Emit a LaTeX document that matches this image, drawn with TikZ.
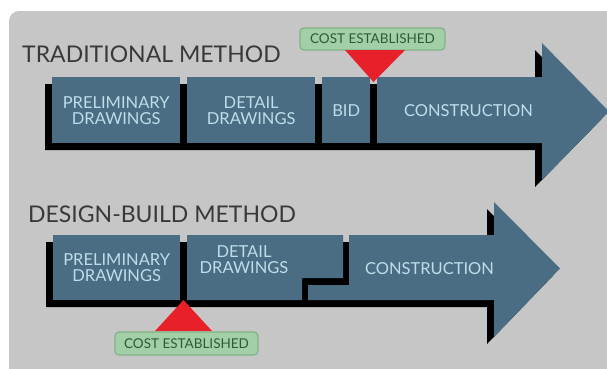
\documentclass[tikz,border=0pt]{standalone}
\usepackage{fontspec}
\setmainfont{Lato}
\definecolor{bgc}{HTML}{C6C6C6}
\definecolor{boxblue}{HTML}{4A6D83}
\definecolor{boxtxt}{HTML}{BEDDEA}
\definecolor{titlec}{HTML}{393939}
\definecolor{costfill}{HTML}{A3CFA6}
\definecolor{costdraw}{HTML}{82B287}
\definecolor{costtxt}{HTML}{2F5A38}
\definecolor{costred}{HTML}{E8202A}
\begin{document}
\begin{tikzpicture}[x=1pt,y=-1pt,
  piece/.style={fill=boxblue, draw=none},
  boxnode/.style={piece, rectangle, anchor=north west, inner sep=0pt, text=boxtxt,
    font=\fontsize{16.5}{16}\selectfont, align=center},
  txt/.style={text=boxtxt, font=\fontsize{16.5}{16}\selectfont, align=center, inner sep=0pt},
  shade7/.style={fill=black, shift={(-7,7)}},
  titletxt/.style={text=titlec, font=\fontsize{23}{23}\selectfont, anchor=base west, inner sep=0pt},
  costlabel/.style={draw=costdraw, line width=1.2pt, fill=costfill, rounded corners=4pt,
    text=costtxt, font=\fontsize{13.5}{13.5}\selectfont, inner sep=0pt},
  costtri/.style={fill=costred}
]
\useasboundingbox (0,0) rectangle (607,368);
\clip (0,0) rectangle (607,368);
\fill[white] (0,0) rectangle (607,368);
\fill[bgc, rounded corners=10pt] (9,11) rectangle (640,400);

% ---------- Traditional method ----------
\node[titletxt] (t1) at (22,62) {TRADITIONAL METHOD};
\fill[shade7] (52,77) -- (542,77) -- (542,43) -- (609,111.5) -- (542,180) -- (542,143) -- (52,143) -- cycle;
\node[boxnode, minimum width=128pt, minimum height=66pt] (pre1) at (52,77) {PRELIMINARY\\DRAWINGS};
\node[boxnode, minimum width=128pt, minimum height=66pt] (det1) at (187,77) {DETAIL\\DRAWINGS};
\node[boxnode, minimum width=48pt, minimum height=66pt] (bid1) at (322,77) {BID};
\fill[piece] (377,77) -- (542,77) -- (542,43) -- (609,111.5) -- (542,180) -- (542,143) -- (377,143) -- cycle;
\node[txt] (con1) at (468.5,111) {CONSTRUCTION};
\node[costlabel, minimum width=145pt, minimum height=22pt] (cost1) at (372.5,39) {COST ESTABLISHED};
\coordinate (tip1) at (373.5,82);
\fill[costtri] (345,50) -- (405,50) -- (tip1) -- cycle;

% ---------- Design-build method ----------
\node[titletxt] (t2) at (28,222) {DESIGN-BUILD METHOD};
\fill[shade7] (53,235) -- (494,235) -- (494,202) -- (560,268.5) -- (494,337) -- (494,300) -- (53,300) -- cycle;
\node[boxnode, minimum width=127pt, minimum height=65pt] (pre2) at (53,235) {PRELIMINARY\\DRAWINGS};
\fill[piece] (187,235) -- (343,235) -- (343,278) -- (302,278) -- (302,300) -- (187,300) -- cycle;
\node[txt] (det2) at (244,260) {DETAIL\\DRAWINGS};
\fill[piece] (349,235) -- (494,235) -- (494,202) -- (560,268.5) -- (494,337) -- (494,300) -- (308,300) -- (308,285) -- (349,285) -- cycle;
\node[txt] (con2) at (429.5,269) {CONSTRUCTION};
\coordinate (tip2) at (183.5,300);
\fill[costtri] (155,331) -- (212,331) -- (tip2) -- cycle;
\node[costlabel, minimum width=143pt, minimum height=23pt] (cost2) at (186.5,343.5) {COST ESTABLISHED};
\end{tikzpicture}
\end{document}
